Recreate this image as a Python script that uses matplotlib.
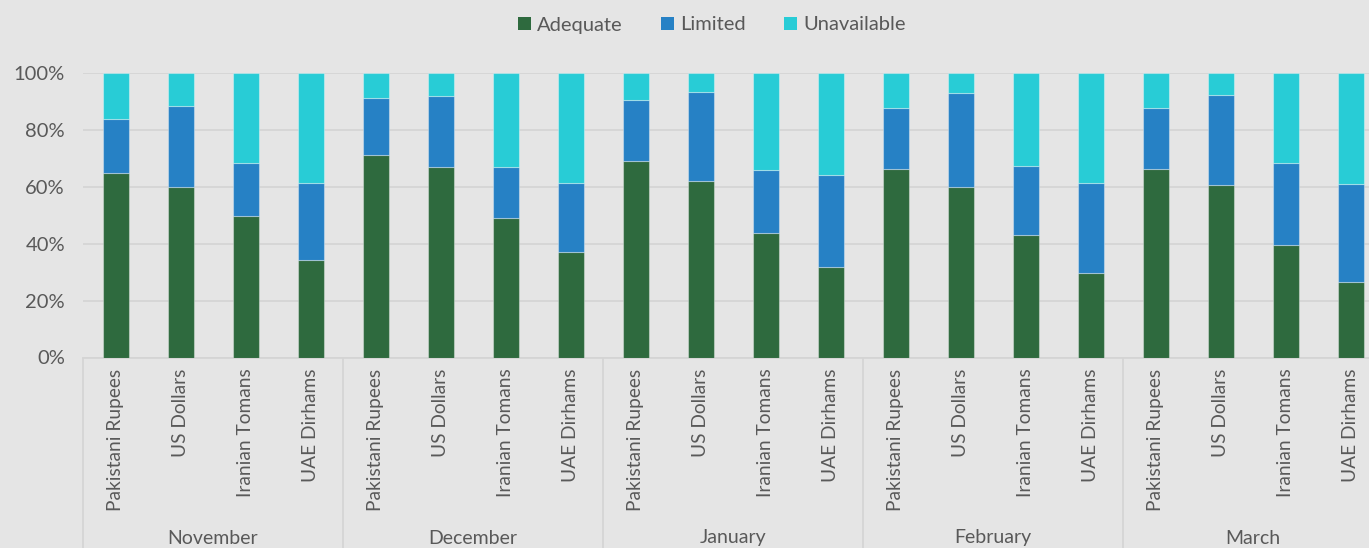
import matplotlib
matplotlib.use("Agg")
import matplotlib.pyplot as plt
import matplotlib.transforms as mtransforms
import numpy as np

months = ["November", "December", "January", "February", "March"]
currencies = ["Pakistani Rupees", "US Dollars", "Iranian Tomans", "UAE Dirhams"]
series_names = ["Adequate", "Limited", "Unavailable"]

# percentages per month, order: PKR, USD, IRT, AED
adequate = [
    65.0, 60.1, 49.6, 34.3,
    71.1, 66.8, 49.2, 37.2,
    69.2, 62.2, 43.7, 31.9,
    66.1, 59.9, 43.0, 29.8,
    66.2, 60.6, 39.4, 26.4,
]
limited = [
    18.9, 28.3, 18.9, 27.2,
    20.0, 25.0, 17.6, 24.0,
    21.2, 31.0, 22.1, 32.1,
    21.5, 32.9, 24.4, 31.4,
    21.4, 31.7, 28.9, 34.5,
]
unavailable = [
    16.1, 11.6, 31.5, 38.5,
    8.9, 8.2, 33.2, 38.8,
    9.6, 6.8, 34.2, 36.0,
    12.4, 7.2, 32.6, 38.8,
    12.4, 7.7, 31.7, 39.1,
]
colors = ["#2e6a3e", "#2681c5", "#28ccd6"]

plt.rcParams['font.family'] = ['Lato', 'DejaVu Sans']
text_color = "#595959"
bg = "#e5e5e5"

W, H = 1369, 548
fig = plt.figure(figsize=(W / 100, H / 100), dpi=100, facecolor=bg)
left_px, right_px = 83, 1383
bottom_px, top_px = 357.5, 73
ax = fig.add_axes([left_px / W, (H - bottom_px) / H,
                   (right_px - left_px) / W, (bottom_px - top_px) / H])
ax.set_facecolor(bg)

n = len(adequate)
x = np.arange(n)
a = np.array(adequate) / 100
l = np.array(limited) / 100
u = np.array(unavailable) / 100
tot = a + l + u
a, l, u = a / tot, l / tot, u / tot

bw = 0.4
kw = dict(width=bw, edgecolor=(1, 1, 1, 0.35), linewidth=0.8, zorder=3)
ax.bar(x, a, color=colors[0], label=series_names[0], **kw)
ax.bar(x, l, bottom=a, color=colors[1], label=series_names[1], **kw)
ax.bar(x, u, bottom=a + l, color=colors[2], label=series_names[2], **kw)

ax.set_xlim(-0.5, n - 0.5)
ax.set_ylim(0, 1)
ax.set_yticks(np.arange(0, 1.01, 0.2))
ax.set_yticklabels([f"{int(round(v*100))}%" for v in np.arange(0, 1.01, 0.2)])
ax.yaxis.grid(True, color="#d4d4d4", linewidth=1.2, zorder=0)
ax.set_axisbelow(True)
for s in ["top", "right", "left"]:
    ax.spines[s].set_visible(False)
ax.spines["bottom"].set_color("#d4d4d4")
ax.spines["bottom"].set_linewidth(1.2)
ax.tick_params(axis="y", length=0, pad=13, labelsize=14.5, labelcolor=text_color)

ax.set_xticks(x)
ax.set_xticklabels(currencies * len(months), rotation=90, va="top", ha="center")
ax.tick_params(axis="x", length=0, pad=8, labelsize=13.8, labelcolor=text_color)

trans = mtransforms.blended_transform_factory(ax.transData, ax.transAxes)
ng = len(currencies)
axis_h = bottom_px - top_px
for g in range(len(months) + 1):
    xs = g * ng - 0.5
    ax.plot([xs, xs], [0, -(H - bottom_px) / axis_h], transform=trans,
            color="#d4d4d4", linewidth=1.2, clip_on=False, zorder=1)
for g, m in enumerate(months):
    xc = g * ng + (ng - 1) / 2
    ax.text(xc, -(538 - bottom_px) / axis_h, m, transform=trans,
            ha="center", va="center", fontsize=14, color=text_color)

leg = fig.legend(loc="center", bbox_to_anchor=(712 / W, 1 - 25 / H), ncol=3,
                 frameon=False, fontsize=14.5, handlelength=0.65, handleheight=0.65,
                 handletextpad=0.3, columnspacing=1.9, labelcolor=text_color)
for h in leg.legend_handles:
    h.set_edgecolor("none")

fig.savefig("out.png", dpi=100, facecolor=bg)
